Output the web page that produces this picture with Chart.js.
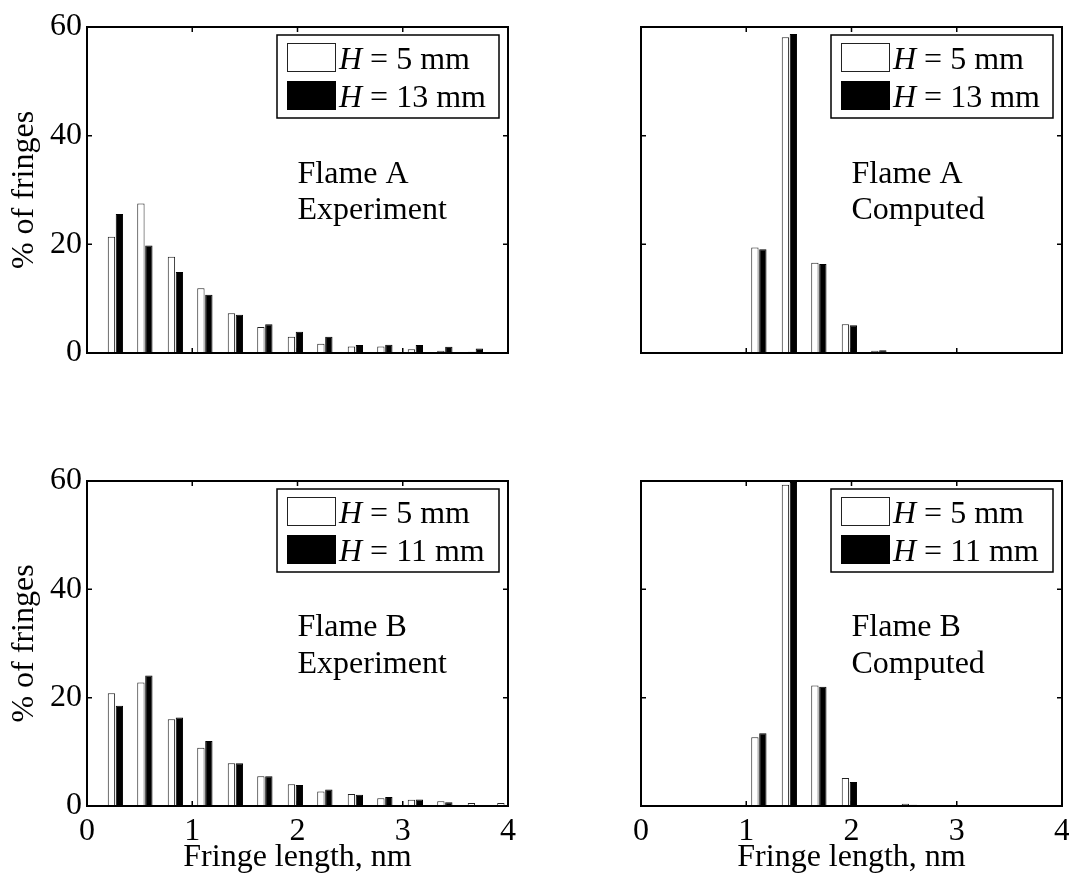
<!DOCTYPE html>
<html><head><meta charset="utf-8">
<script src="https://cdn.jsdelivr.net/npm/chart.js@4.4.1/dist/chart.umd.min.js"></script>
<style>
html,body{margin:0;padding:0;background:#fff;overflow:hidden;width:1069px;height:879px}
canvas{position:absolute}
</style></head>
<body>
<canvas id="c1" width="534" height="440" style="left:0px;top:0px"></canvas>
<canvas id="c2" width="535" height="440" style="left:534px;top:0px"></canvas>
<canvas id="c3" width="534" height="439" style="left:0px;top:440px"></canvas>
<canvas id="c4" width="535" height="439" style="left:534px;top:440px"></canvas>
<script>
// ---- data ----
const binCenters = [0.27, 0.55, 0.84, 1.12, 1.41, 1.69, 1.98, 2.26, 2.55, 2.83, 3.12, 3.40, 3.69, 3.97];
const flameA_exp_5mm  = [21.4, 27.5, 17.7, 11.9, 7.3, 4.8, 3.0, 1.7, 1.2, 1.2, 0.7, 0.4, 0.25, 0.1];
const flameA_exp_13mm = [25.6, 19.8, 14.9, 10.7, 7.05, 5.3, 3.9, 3.0, 1.45, 1.5, 1.45, 1.15, 0.85, 0.2];
const flameA_cmp_5mm  = [0, 0, 0, 19.4, 58.1, 16.6, 5.3, 0.4, 0.15, 0, 0, 0, 0, 0];
const flameA_cmp_13mm = [0, 0, 0, 19.1, 58.7, 16.4, 5.1, 0.5, 0.15, 0, 0, 0, 0, 0];
const flameB_exp_5mm  = [20.8, 22.8, 16.0, 10.75, 7.9, 5.5, 4.0, 2.7, 2.2, 1.45, 1.15, 0.9, 0.55, 0.55];
const flameB_exp_11mm = [18.5, 24.1, 16.35, 12.0, 7.9, 5.5, 3.9, 3.05, 2.1, 1.65, 1.2, 0.7, 0, 0];
const flameB_cmp_5mm  = [0, 0, 0, 12.7, 59.3, 22.25, 5.15, 0, 0.4, 0, 0, 0, 0, 0];
const flameB_cmp_11mm = [0, 0, 0, 13.45, 59.8, 22.0, 4.45, 0, 0.25, 0, 0, 0, 0, 0];
const seriesA = ['5 mm', '13 mm'];
const seriesB = ['5 mm', '11 mm'];
const xTickRange = [0, 4, 1];   // min, max, step
const yTickRange = [0, 60, 20];
const xAxisTitle = 'Fringe length, nm';
const yAxisTitle = '% of fringes';
const notesA_exp = ['Flame A', 'Experiment'];
const notesA_cmp = ['Flame A', 'Computed'];
const notesB_exp = ['Flame B', 'Experiment'];
const notesB_cmp = ['Flame B', 'Computed'];

const FONT = '"Liberation Serif", "Times New Roman", Times, serif';
Chart.defaults.font.family = FONT;
Chart.defaults.font.size = 32;
Chart.defaults.color = '#000';

function toXY(vals) { return vals.map((v, i) => ({ x: binCenters[i], y: v })); }

const deco = {
  id: 'deco',
  afterDatasetsDraw(chart, args, opts) {
    const { ctx, chartArea: a, scales: { x, y } } = chart;
    ctx.save();
    // inward ticks
    ctx.strokeStyle = '#000';
    ctx.lineWidth = 1.5;
    const tl = 5;
    ctx.beginPath();
    x.ticks.forEach(t => {
      const px = x.getPixelForValue(t.value);
      ctx.moveTo(px, a.bottom); ctx.lineTo(px, a.bottom - tl);
      ctx.moveTo(px, a.top); ctx.lineTo(px, a.top + tl);
    });
    y.ticks.forEach(t => {
      const py = y.getPixelForValue(t.value);
      ctx.moveTo(a.left, py); ctx.lineTo(a.left + tl, py);
      ctx.moveTo(a.right, py); ctx.lineTo(a.right - tl, py);
    });
    ctx.stroke();
    // frame
    ctx.lineWidth = 2;
    ctx.strokeRect(a.left, a.top, a.right - a.left, a.bottom - a.top);

    // notes
    ctx.fillStyle = '#000';
    ctx.font = '32px ' + FONT;
    ctx.textAlign = 'left';
    ctx.textBaseline = 'alphabetic';
    const nx = x.getPixelForValue(opts.noteX);
    opts.notes.forEach((s, i) => ctx.fillText(s, nx, y.getPixelForValue(opts.noteY[i])));

    // legend
    const lw = 222, lh = 83;
    const lx = a.right - 9 - lw, ly = a.top + 8;
    ctx.fillStyle = '#fff';
    ctx.fillRect(lx, ly, lw, lh);
    ctx.lineWidth = 1.5;
    ctx.strokeStyle = '#000';
    ctx.strokeRect(lx, ly, lw, lh);
    const ds = chart.data.datasets;
    ds.forEach((d, i) => {
      const sy = ly + 8 + i * 38;
      ctx.fillStyle = d.backgroundColor;
      ctx.fillRect(lx + 10, sy, 49, 29);
      ctx.lineWidth = 1;
      ctx.strokeStyle = d.borderColor;
      ctx.strokeRect(lx + 10.5, sy + 0.5, 48, 28);
      const by = ly + 33.5 + i * 38;
      let tx = lx + 62;
      ctx.fillStyle = '#000';
      ctx.font = 'italic 32px ' + FONT;
      ctx.fillText('H', tx, by);
      tx += ctx.measureText('H').width;
      ctx.font = '32px ' + FONT;
      ctx.fillText(' = ' + d.label, tx, by);
    });
    ctx.restore();
  }
};

function makePanel(id, v1, v2, series, notes, cfg) {
  new Chart(document.getElementById(id), {
    type: 'bar',
    data: {
      datasets: [
        { label: series[0], data: toXY(v1), backgroundColor: '#ffffff', borderColor: '#222222', borderWidth: 1,
          categoryPercentage: 0.54, barPercentage: 0.92 },
        { label: series[1], data: toXY(v2), backgroundColor: '#000000', borderColor: '#000000', borderWidth: 1,
          categoryPercentage: 0.54, barPercentage: 0.92 }
      ]
    },
    options: {
      responsive: false,
      animation: false,
      events: [],
      layout: { padding: { left: 0, right: cfg.padR, top: cfg.padT, bottom: 0 } },
      plugins: {
        legend: { display: false },
        tooltip: { enabled: false },
        deco: { notes: notes, noteX: 2.0, noteY: [31.3, 24.6] }
      },
      scales: {
        x: {
          type: 'linear', min: xTickRange[0], max: xTickRange[1], offset: false,
          grid: { display: false, drawTicks: false, offset: false },
          border: { display: false },
          ticks: { display: cfg.showX, stepSize: xTickRange[2], padding: 6, color: '#000', font: { size: 32 } },
          title: { display: cfg.showX, text: xAxisTitle, color: '#000', font: { size: 32 }, padding: { top: 0, bottom: 2 } },
          afterFit(s) { s.height = cfg.xH; s.paddingLeft = 0; s.paddingRight = 0; }
        },
        y: {
          type: 'linear', min: yTickRange[0], max: yTickRange[1],
          grid: { display: false, drawTicks: false },
          border: { display: false },
          ticks: { display: cfg.showY, stepSize: yTickRange[2], padding: 5, color: '#000', font: { size: 32 } },
          title: { display: cfg.showY, text: yAxisTitle, color: '#000', font: { size: 32 }, padding: { top: 5, bottom: 0 } },
          afterFit(s) { s.width = cfg.yW; s.paddingTop = 0; s.paddingBottom = 0; }
        }
      }
    },
    plugins: [deco]
  });
}

makePanel('c1', flameA_exp_5mm, flameA_exp_13mm, seriesA, notesA_exp, { padR: 26, padT: 27, xH: 87, yW: 87, showX: false, showY: true });
makePanel('c2', flameA_cmp_5mm, flameA_cmp_13mm, seriesA, notesA_cmp, { padR: 7, padT: 27, xH: 87, yW: 107, showX: false, showY: false });
makePanel('c3', flameB_exp_5mm, flameB_exp_11mm, seriesB, notesB_exp, { padR: 26, padT: 41, xH: 73, yW: 87, showX: true, showY: true });
makePanel('c4', flameB_cmp_5mm, flameB_cmp_11mm, seriesB, notesB_cmp, { padR: 7, padT: 41, xH: 73, yW: 107, showX: true, showY: false });
</script>
</body></html>
